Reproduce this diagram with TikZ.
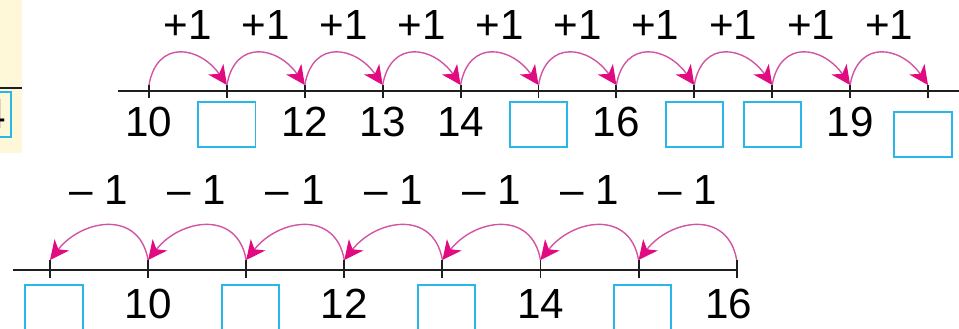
\documentclass[tikz,border=0pt]{standalone}
\usepackage{fontspec}
\setmainfont{Liberation Sans}
\usetikzlibrary{arrows.meta,positioning}
\definecolor{nlcyan}{RGB}{41,182,232}
\definecolor{nlpink}{RGB}{210,85,165}
\definecolor{nlmagenta}{RGB}{225,10,128}
\definecolor{nlcream}{RGB}{255,248,216}
\definecolor{nlline}{RGB}{30,30,30}
\tikzset{
  nlbox/.style={draw=nlcyan, line width=1.4pt, fill=white, minimum width=1.43cm, minimum height=1.12cm, inner sep=0pt},
  nlnum/.style={inner sep=0pt},
  nlaxis/.style={draw=nlline, line width=1.6pt},
  nltick/.style={draw=nlline, line width=1.3pt},
  nlarr/.style={-{Stealth[length=4.8mm, width=4.6mm, inset=1.4mm, color=nlmagenta]}, line width=1pt, draw=nlpink}
}

\begin{document}
\begin{tikzpicture}[font=\fontsize{30}{36}\selectfont]
  \clip (0,0) rectangle (23.975,-8.225);
  \useasboundingbox (0,0) rectangle (23.975,-8.225);

  % edge of the exercise before
  \fill[nlcream] (0,0) rectangle (0.55,-3.825);
  \coordinate (ps) at (0,-2.2);
  \coordinate (pe) at (0.55,-2.2);
  \draw[nlaxis] (ps) -- (pe);
  \node[nlbox, fill=nlcream, anchor=east] (pbox) at (0.3,-2.86) {};
  \node[nlnum, anchor=east] (pnum) at (0.15,-2.86) {4};

  % counting on
  \coordinate (as) at (2.95,-2.275);
  \coordinate (ae) at (24.5,-2.275);
  \draw[nlaxis] (as) -- (ae);
  \foreach \i in {0,...,10} {
    \coordinate (a\i) at ({3.725+1.9475*\i},-2.275);
    \coordinate (t\i) at ({3.725+1.9475*\i},-2.125);
    \draw[nltick] (t\i) -- ([yshift=-0.175cm]a\i);
  }
  \foreach \i [evaluate=\i as \j using int(\i+1)] in {0,...,9} {
    \draw[nlarr] (t\i) to[out=80, in=125, looseness=1.55] (t\j);
    \node[nlnum] (p\i) at ({3.725+1.9475*(\i+0.5)},-0.625) {+1};
  }
  \foreach \i/\t in {0/10,2/12,3/13,4/14,6/16,9/19}
    \node[nlnum, below=0.4cm of a\i] (n\i) {\t};
  \foreach \i in {1,5,7,8}
    \node[nlbox, below=0.25cm of a\i] (b\i) {};
  \node[nlbox, below=0.5cm of a10, xshift=-0.125cm] (b10) {};

  % counting back
  \coordinate (cs) at (0.325,-6.75);
  \foreach \i in {0,...,7} {
    \coordinate (c\i) at ({1.25+2.4525*\i},-6.75);
    \coordinate (u\i) at ({1.25+2.4525*\i},-6.5);
    \draw[nltick] (u\i) -- ([yshift=-0.2cm]c\i);
  }
  \draw[nlaxis] (cs) -- (c7);
  \foreach \i [evaluate=\i as \j using int(\i+1)] in {0,...,6} {
    \draw[nlarr] (u\j) to[out=100, in=52, looseness=1.35] (u\i);
    \node[nlnum] (m\i) at ({1.25+2.4525*(\i+0.5)},-4.75) {– 1};
  }
  \foreach \i/\t in {1/10,3/12,5/14}
    \node[nlnum, below=0.475cm of c\i] (k\i) {\t};
  \node[nlnum, below=0.475cm of c7, xshift=-0.2cm] (k7) {16};
  \foreach \i in {0,2,4,6}
    \node[nlbox, below=0.35cm of c\i, xshift=0.1cm] (d\i) {};
\end{tikzpicture}
\end{document}
